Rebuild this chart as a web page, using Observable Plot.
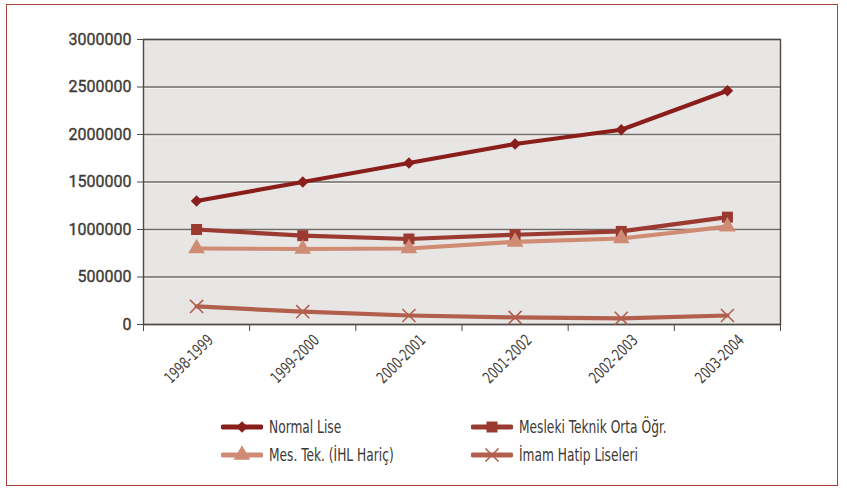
<!DOCTYPE html>
<html>
<head>
<meta charset="utf-8">
<script src="https://cdn.jsdelivr.net/npm/d3@7"></script>
<script src="https://cdn.jsdelivr.net/npm/@observablehq/plot@0.6"></script>
<style>
  html, body { margin: 0; padding: 0; background: #ffffff; }
  #frame {
    position: absolute; left: 6px; top: 4px; width: 830px; height: 480px;
    border: 1.5px solid #a8403c; box-sizing: content-box; background: #fff;
  }
  #chart { position: absolute; left: 0; top: 0; }
  .legend-item {
    position: absolute; display: flex; align-items: center; height: 24px;
    font-family: "DejaVu Sans Condensed", "DejaVu Sans", sans-serif;
    font-stretch: condensed; font-size: 17px; color: #3d3834; white-space: nowrap;
  }
  .legend-item svg { margin-right: 6px; flex: none; }
  .legend-item span { display: inline-block; transform: scaleX(0.8); transform-origin: left center; }
</style>
</head>
<body>
<div id="frame"><div id="chart"></div></div>
<script>
const categories = ["1998-1999", "1999-2000", "2000-2001", "2001-2002", "2002-2003", "2003-2004"];
const normalLise = [1300000, 1500000, 1700000, 1900000, 2050000, 2460000];
const meslekiTeknik = [1000000, 935000, 900000, 945000, 980000, 1130000];
const mesTekIhlHaric = [800000, 795000, 800000, 870000, 905000, 1030000];
const imamHatip = [190000, 135000, 95000, 75000, 65000, 95000];
const seriesNames = ["Normal Lise", "Mesleki Teknik Orta Öğr.", "Mes. Tek. (İHL Hariç)", "İmam Hatip Liseleri"];
const yTicks = [0, 500000, 1000000, 1500000, 2000000, 2500000, 3000000];

const seriesValues = [normalLise, meslekiTeknik, mesTekIhlHaric, imamHatip];
const seriesColors = ["#8a1e1b", "#9a3a30", "#d08b74", "#b35f4d"];
const seriesSymbols = ["square", "square", "triangle", "times"];
const seriesRotate = [45, 0, 0, 0];
const seriesR = [4.6, 6.2, 6.2, 6];

const data = seriesNames.flatMap((s, si) =>
  categories.map((c, i) => ({series: s, cat: c, pos: i + 0.5, value: seriesValues[si][i]}))
);

const narrow = '"DejaVu Sans Condensed", "DejaVu Sans", sans-serif';

const dotMarks = seriesNames.map((s, si) => {
  const rows = data.filter(d => d.series === s);
  return seriesSymbols[si] === "times"
    ? Plot.dot(rows, {x: "pos", y: "value", stroke: seriesColors[si], symbol: "times", r: seriesR[si], strokeWidth: 1.6})
    : Plot.dot(rows, {x: "pos", y: "value", fill: seriesColors[si], symbol: seriesSymbols[si], r: seriesR[si], rotate: seriesRotate[si], stroke: "none"});
});

const chart = Plot.plot({
  width: 830,
  height: 395,
  marginLeft: 136,
  marginRight: 57,
  marginTop: 34,
  marginBottom: 76,
  style: {background: "transparent", fontFamily: "Roboto, 'Liberation Sans', sans-serif", color: "#48433f"},
  x: {domain: [0, categories.length]},
  y: {domain: [0, 3000000]},
  color: {domain: seriesNames, range: seriesColors},
  marks: [
    Plot.frame({fill: "#e8e6e4", stroke: "none"}),
    Plot.gridY(yTicks, {stroke: "#fbfaf8", strokeOpacity: 1, strokeWidth: 1, dy: 1.2}),
    Plot.gridY(yTicks, {stroke: "#6f6b67", strokeOpacity: 1, strokeWidth: 1.3}),
    Plot.frame({stroke: "#4d4945", strokeWidth: 1.4}),
    Plot.axisY(yTicks, {
      tickSize: 6, tickPadding: 6, tickFormat: d3.format("d"), fontSize: 16, fontWeight: 400,
      stroke: "#4d4945", label: null, fill: "#3e3935"
    }),
    Plot.axisX(d3.range(categories.length + 1), {
      tickSize: 7, tickFormat: () => "", stroke: "#4d4945", label: null
    }),
    Plot.axisX(categories.map((c, i) => i + 0.5), {
      tickSize: 0, tickPadding: 13, tickFormat: v => categories[Math.floor(v)],
      tickRotate: -45, textAnchor: "end", dx: 14, fontSize: 16, fontFamily: narrow,
      fill: "#48433f", label: null
    }),
    Plot.line(data, {x: "pos", y: "value", z: "series", stroke: "series", strokeWidth: 4.2, strokeLinejoin: "round"}),
    ...dotMarks
  ]
});
// slightly heavier y labels, condensed rotated x labels
chart.querySelectorAll("g[aria-label='y-axis tick label'] text").forEach(t => {
  t.setAttribute("stroke", "#3e3935"); t.setAttribute("stroke-width", "0.35");
});
chart.querySelectorAll("g[aria-label='x-axis tick label'] text").forEach(t => {
  const tr = t.getAttribute("transform") || "";
  if (t.textContent) t.setAttribute("transform", tr + " scale(0.78,1)");
});
document.getElementById("chart").appendChild(chart);

// Legend
const frame = document.getElementById("frame");
const legendPos = [[214, 410], [464, 410], [214, 438], [464, 438]];
seriesNames.forEach((name, i) => {
  const item = document.createElement("div");
  item.className = "legend-item";
  item.style.left = legendPos[i][0] + "px";
  item.style.top = legendPos[i][1] + "px";
  const svg = d3.create("svg").attr("width", 42).attr("height", 20);
  svg.append("line").attr("x1", 2).attr("x2", 40).attr("y1", 10).attr("y2", 10)
    .attr("stroke", seriesColors[i]).attr("stroke-width", 5).attr("stroke-linecap", "round");
  const symMap = {square: d3.symbolSquare, triangle: d3.symbolTriangle, times: d3.symbolTimes};
  const sym = d3.symbol(symMap[seriesSymbols[i]], Math.PI * seriesR[i] * seriesR[i])();
  const p = svg.append("path").attr("d", sym).attr("transform", `translate(21,10) rotate(${seriesRotate[i]})`);
  if (seriesSymbols[i] === "times") p.attr("fill", "none").attr("stroke", seriesColors[i]).attr("stroke-width", 1.6);
  else p.attr("fill", seriesColors[i]);
  item.appendChild(svg.node());
  const span = document.createElement("span");
  span.textContent = name;
  item.appendChild(span);
  frame.appendChild(item);
});
</script>
</body>
</html>
